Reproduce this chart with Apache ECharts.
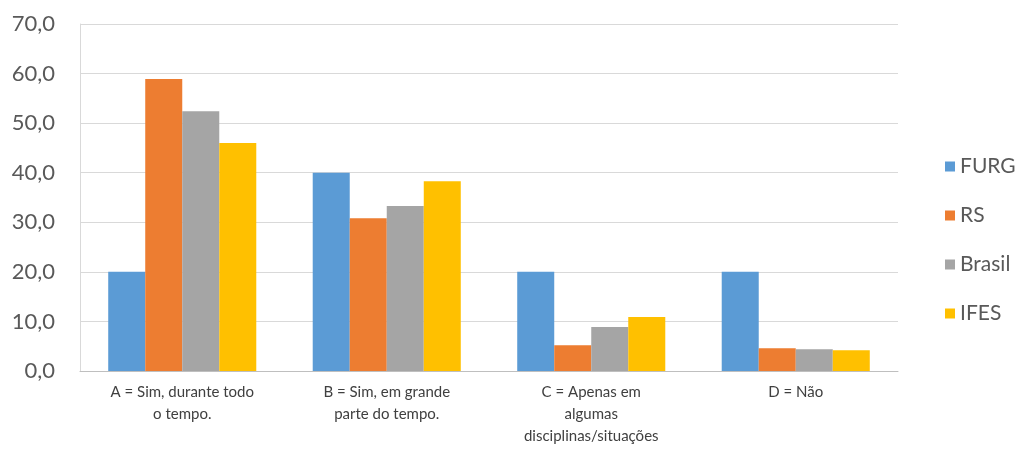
<!DOCTYPE html>
<html><head><meta charset="utf-8">
<script src="https://cdn.jsdelivr.net/npm/echarts@6/dist/echarts.min.js"></script>
<style>html,body{margin:0;padding:0;background:#fff}#c{width:1025px;height:463px}</style>
</head><body><div id="c"></div>
<script>
const categories = ["A = Sim, durante todo\no tempo.", "B = Sim, em grande\nparte do tempo.", "C = Apenas em\nalgumas\ndisciplinas/situações", "D = Não"];
const seriesNames = ["FURG", "RS", "Brasil", "IFES"];
const furg = [20.0, 40.0, 20.0, 20.0];
const rs = [58.9, 30.8, 5.2, 4.6];
const brasil = [52.4, 33.3, 8.9, 4.4];
const ifes = [46.0, 38.3, 10.9, 4.2];
const colors = ["#5B9BD5", "#ED7D31", "#A5A5A5", "#FFC000"];
const values = [furg, rs, brasil, ifes];
const font = "Lato, 'Open Sans', sans-serif";
const chart = echarts.init(document.getElementById('c'), null, {renderer: 'canvas'});
chart.setOption({
  animation: false,
  color: colors,
  grid: {left: 80, right: 127, top: 24, bottom: 92, containLabel: false},
  legend: {
    orient: 'vertical', left: 940, top: 151, itemWidth: 10, itemHeight: 10, itemGap: 28,
    icon: 'rect',
    textStyle: {fontFamily: font, fontSize: 21, color: '#595959'},
    data: seriesNames
  },
  xAxis: {
    type: 'category', data: categories,
    axisLine: {lineStyle: {color: '#BFBFBF'}},
    axisTick: {show: false},
    axisLabel: {fontFamily: font, fontSize: 15, color: '#404040', lineHeight: 22, margin: 10, interval: 0}
  },
  yAxis: {
    type: 'value', min: 0, max: 70, interval: 10,
    axisLine: {show: true, lineStyle: {color: '#D9D9D9'}}, axisTick: {show: false},
    splitLine: {lineStyle: {color: '#D9D9D9'}},
    axisLabel: {fontFamily: font, fontSize: 22, color: '#595959', margin: 25,
      formatter: v => v.toFixed(1).replace('.', ',')}
  },
  series: seriesNames.map((n, i) => ({
    name: n, type: 'bar', data: values[i], barGap: '0%', barCategoryGap: '27.6%'
  }))
});
</script></body></html>
